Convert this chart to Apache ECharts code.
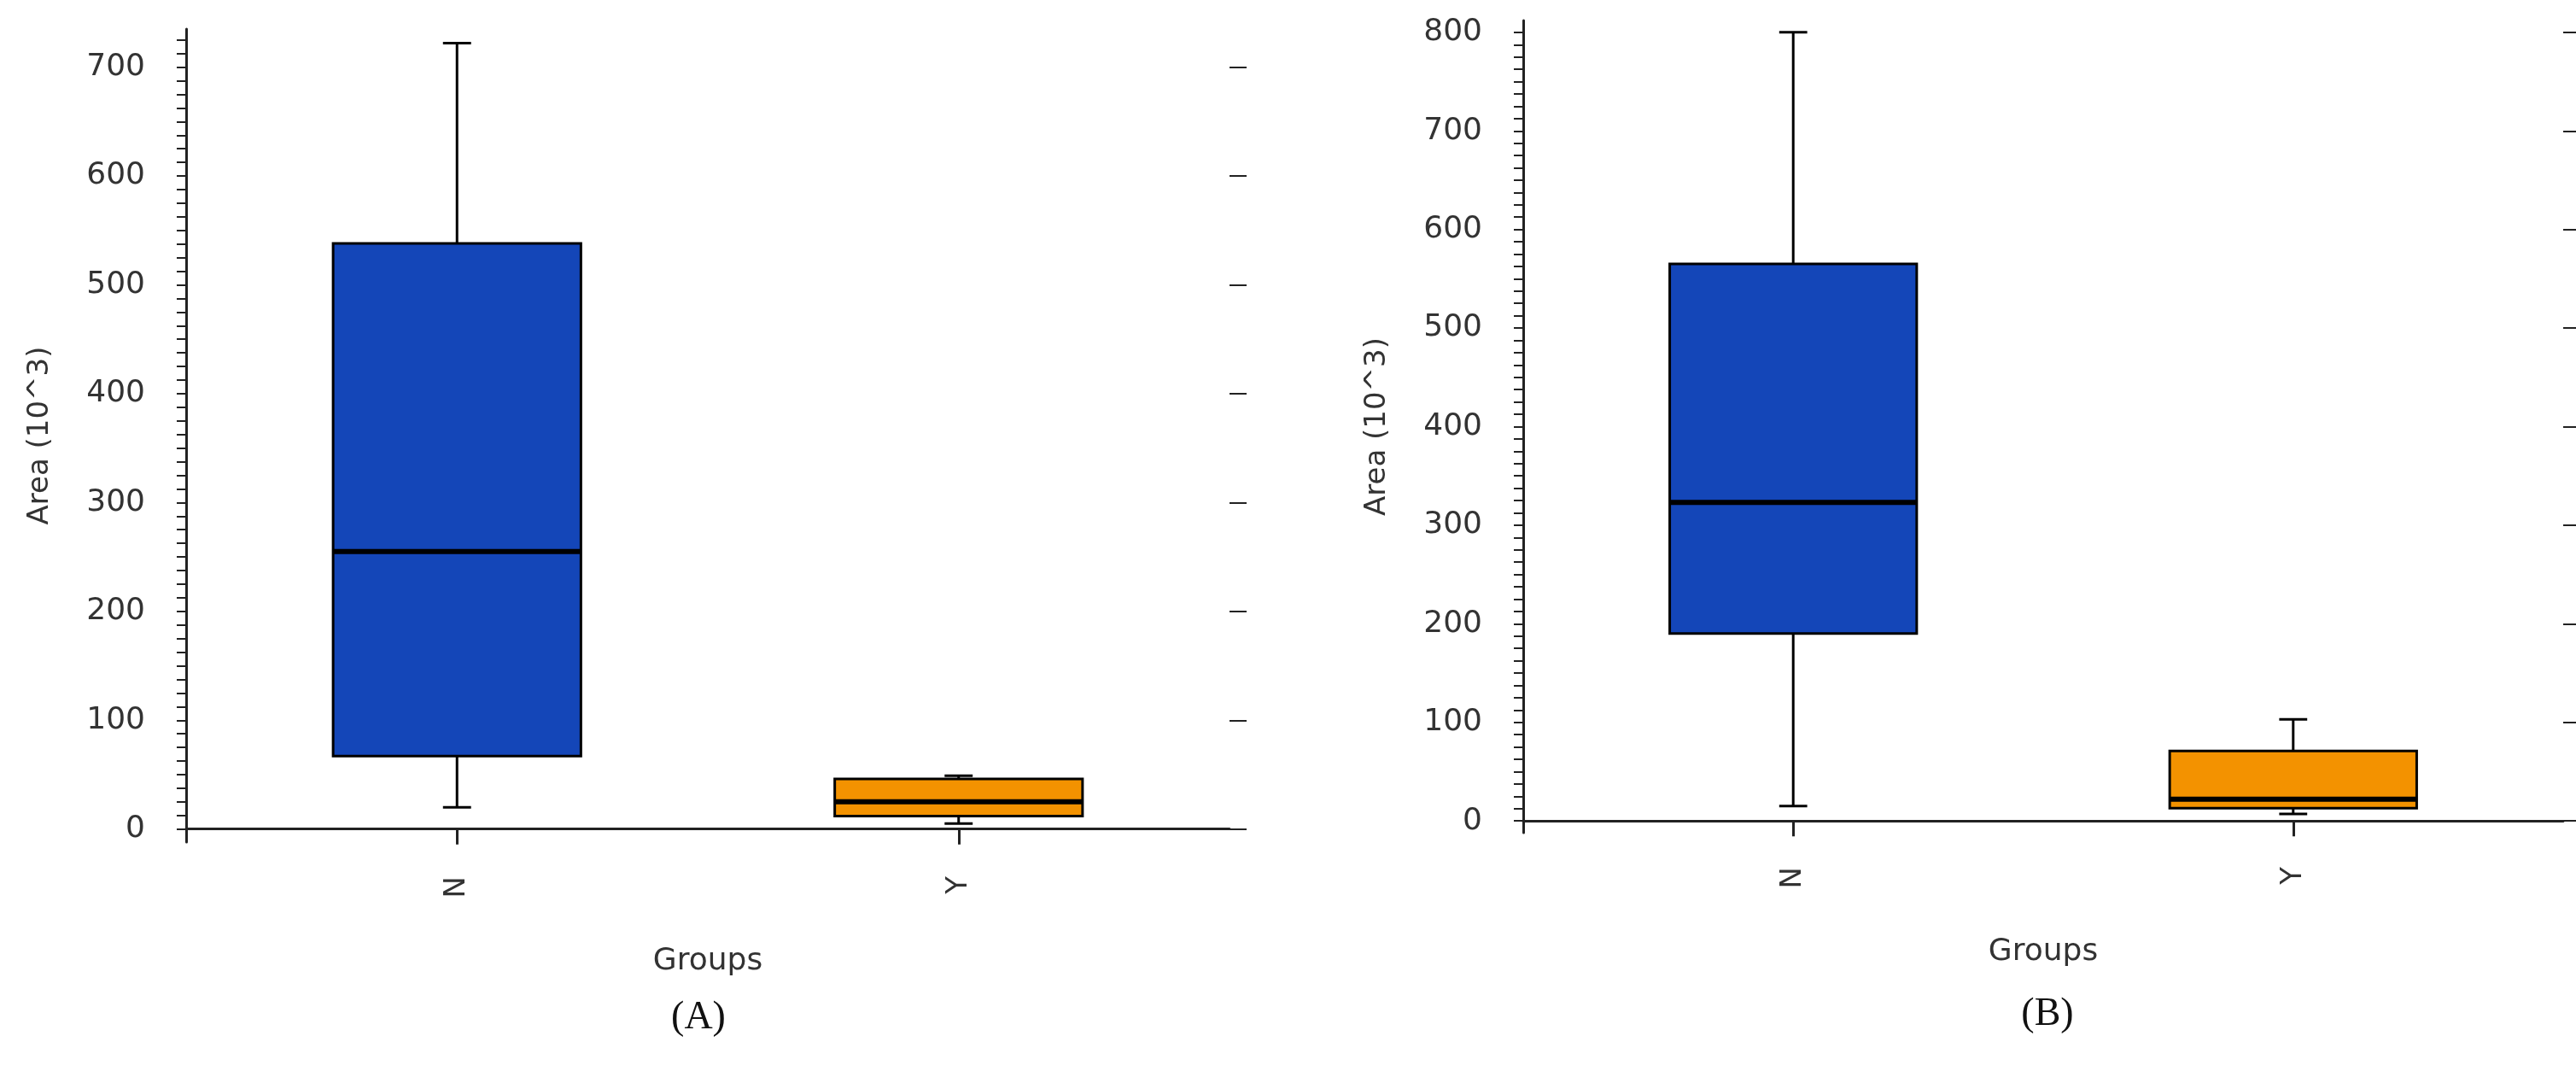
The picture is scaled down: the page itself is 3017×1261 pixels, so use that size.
<!DOCTYPE html>
<html><head><meta charset="utf-8">
<script src="https://cdn.jsdelivr.net/npm/echarts@6/dist/echarts.min.js"></script>
<style>html,body{margin:0;padding:0;background:#fff}#c{width:3017px;height:1261px}</style>
</head><body><div id="c"></div>
<script>
const categories = ['N', 'Y'];
// [min, Q1, median, Q3, max]
const boxA = [[20, 67, 255, 538, 722], [5, 12, 25, 46, 49]];
const boxB = [[15, 190, 323, 565, 800], [7, 13, 22, 71, 103]];
const yTicksA = [0, 100, 200, 300, 400, 500, 600, 700];
const yTicksB = [0, 100, 200, 300, 400, 500, 600, 700, 800];
const colors = ['#1446b8', '#f39200'];

function minor(maxV, step) { const r = []; for (let v = 0; v <= maxV; v += step) r.push(v); return r; }

function renderBox(params, api) {
  const x = api.value(0);
  const v = [1, 2, 3, 4, 5].map(i => api.value(i));
  const half = 0.247, cap = 0.028;
  const p = (xx, yy) => api.coord([xx, yy]);
  const tl = p(x - half, v[3]), br = p(x + half, v[1]);
  const lw = {stroke: '#000', lineWidth: 3};
  return {type: 'group', children: [
    {type: 'line', shape: {x1: p(x, v[3])[0], y1: p(x, v[3])[1], x2: p(x, v[4])[0], y2: p(x, v[4])[1]}, style: lw},
    {type: 'line', shape: {x1: p(x, v[1])[0], y1: p(x, v[1])[1], x2: p(x, v[0])[0], y2: p(x, v[0])[1]}, style: lw},
    {type: 'line', shape: {x1: p(x - cap, v[4])[0], y1: p(x, v[4])[1], x2: p(x + cap, v[4])[0], y2: p(x, v[4])[1]}, style: lw},
    {type: 'line', shape: {x1: p(x - cap, v[0])[0], y1: p(x, v[0])[1], x2: p(x + cap, v[0])[0], y2: p(x, v[0])[1]}, style: lw},
    {type: 'rect', shape: {x: tl[0], y: tl[1], width: br[0] - tl[0], height: br[1] - tl[1]},
      style: {fill: colors[params.dataIndex], stroke: '#000', lineWidth: 3}},
    {type: 'line', shape: {x1: tl[0], y1: p(x, v[2])[1], x2: br[0], y2: p(x, v[2])[1]}, style: {stroke: '#000', lineWidth: 6}}
  ]};
}

const font = {fontFamily: 'DejaVu Sans', color: '#333'};
function xAxis(gi) {
  return {type: 'value', gridIndex: gi, min: 0.46, max: 2.54, splitLine: {show: false},
    axisLine: {lineStyle: {color: '#222', width: 3}},
    axisTick: {customValues: [1, 2], length: 18, lineStyle: {color: '#222', width: 3}},
    axisLabel: {customValues: [1, 2], rotate: 90, margin: 40, fontSize: 34, ...font, formatter: v => categories[v - 1]},
    name: 'Groups', nameLocation: 'middle', nameGap: 122, nameTextStyle: {fontSize: 36, ...font}};
}
function yAxis(gi, max, ticks, step) {
  return {type: 'value', gridIndex: gi, min: -12, max: max, splitLine: {show: false},
    axisLine: {show: true, lineStyle: {color: '#222', width: 3}},
    axisTick: {customValues: minor(max, step), length: 11, lineStyle: {color: '#222', width: 2}},
    axisLabel: {customValues: ticks, fontSize: 36, margin: 48, ...font},
    name: 'Area (10^3)', nameLocation: 'middle', nameGap: 154, nameTextStyle: {fontSize: 34, ...font}};
}
function yMajor(gi, max, ticks) {
  return {type: 'value', gridIndex: gi, min: -12, max: max, splitLine: {show: false},
    axisLine: {show: false}, axisLabel: {show: false},
    axisTick: {show: true, customValues: ticks, length: 20, lineStyle: {color: '#222', width: 2}}};
}

const chart = echarts.init(document.getElementById('c'));
chart.setOption({
  animation: false,
  grid: [
    {left: 218, right: 1577, top: 34, bottom: 275},
    {left: 1784, right: 15, top: 24, bottom: 286}
  ],
  xAxis: [xAxis(0), xAxis(1)],
  yAxis: [yAxis(0, 735, yTicksA, 12.5), yAxis(1, 812, yTicksB, 12.5), yMajor(0, 735, yTicksA), yMajor(1, 812, yTicksB)],
  graphic: [
    {type: 'text', x: 818, y: 1192, style: {text: '(A)', font: '46px "Liberation Serif"', fill: '#111', align: 'center', verticalAlign: 'middle'}},
    {type: 'text', x: 2398, y: 1188, style: {text: '(B)', font: '46px "Liberation Serif"', fill: '#111', align: 'center', verticalAlign: 'middle'}}
  ],
  series: [
    {type: 'custom', xAxisIndex: 0, yAxisIndex: 0, renderItem: renderBox, data: boxA.map((b, i) => [i + 1, ...b])},
    {type: 'custom', xAxisIndex: 1, yAxisIndex: 1, renderItem: renderBox, data: boxB.map((b, i) => [i + 1, ...b])}
  ]
});
</script></body></html>
